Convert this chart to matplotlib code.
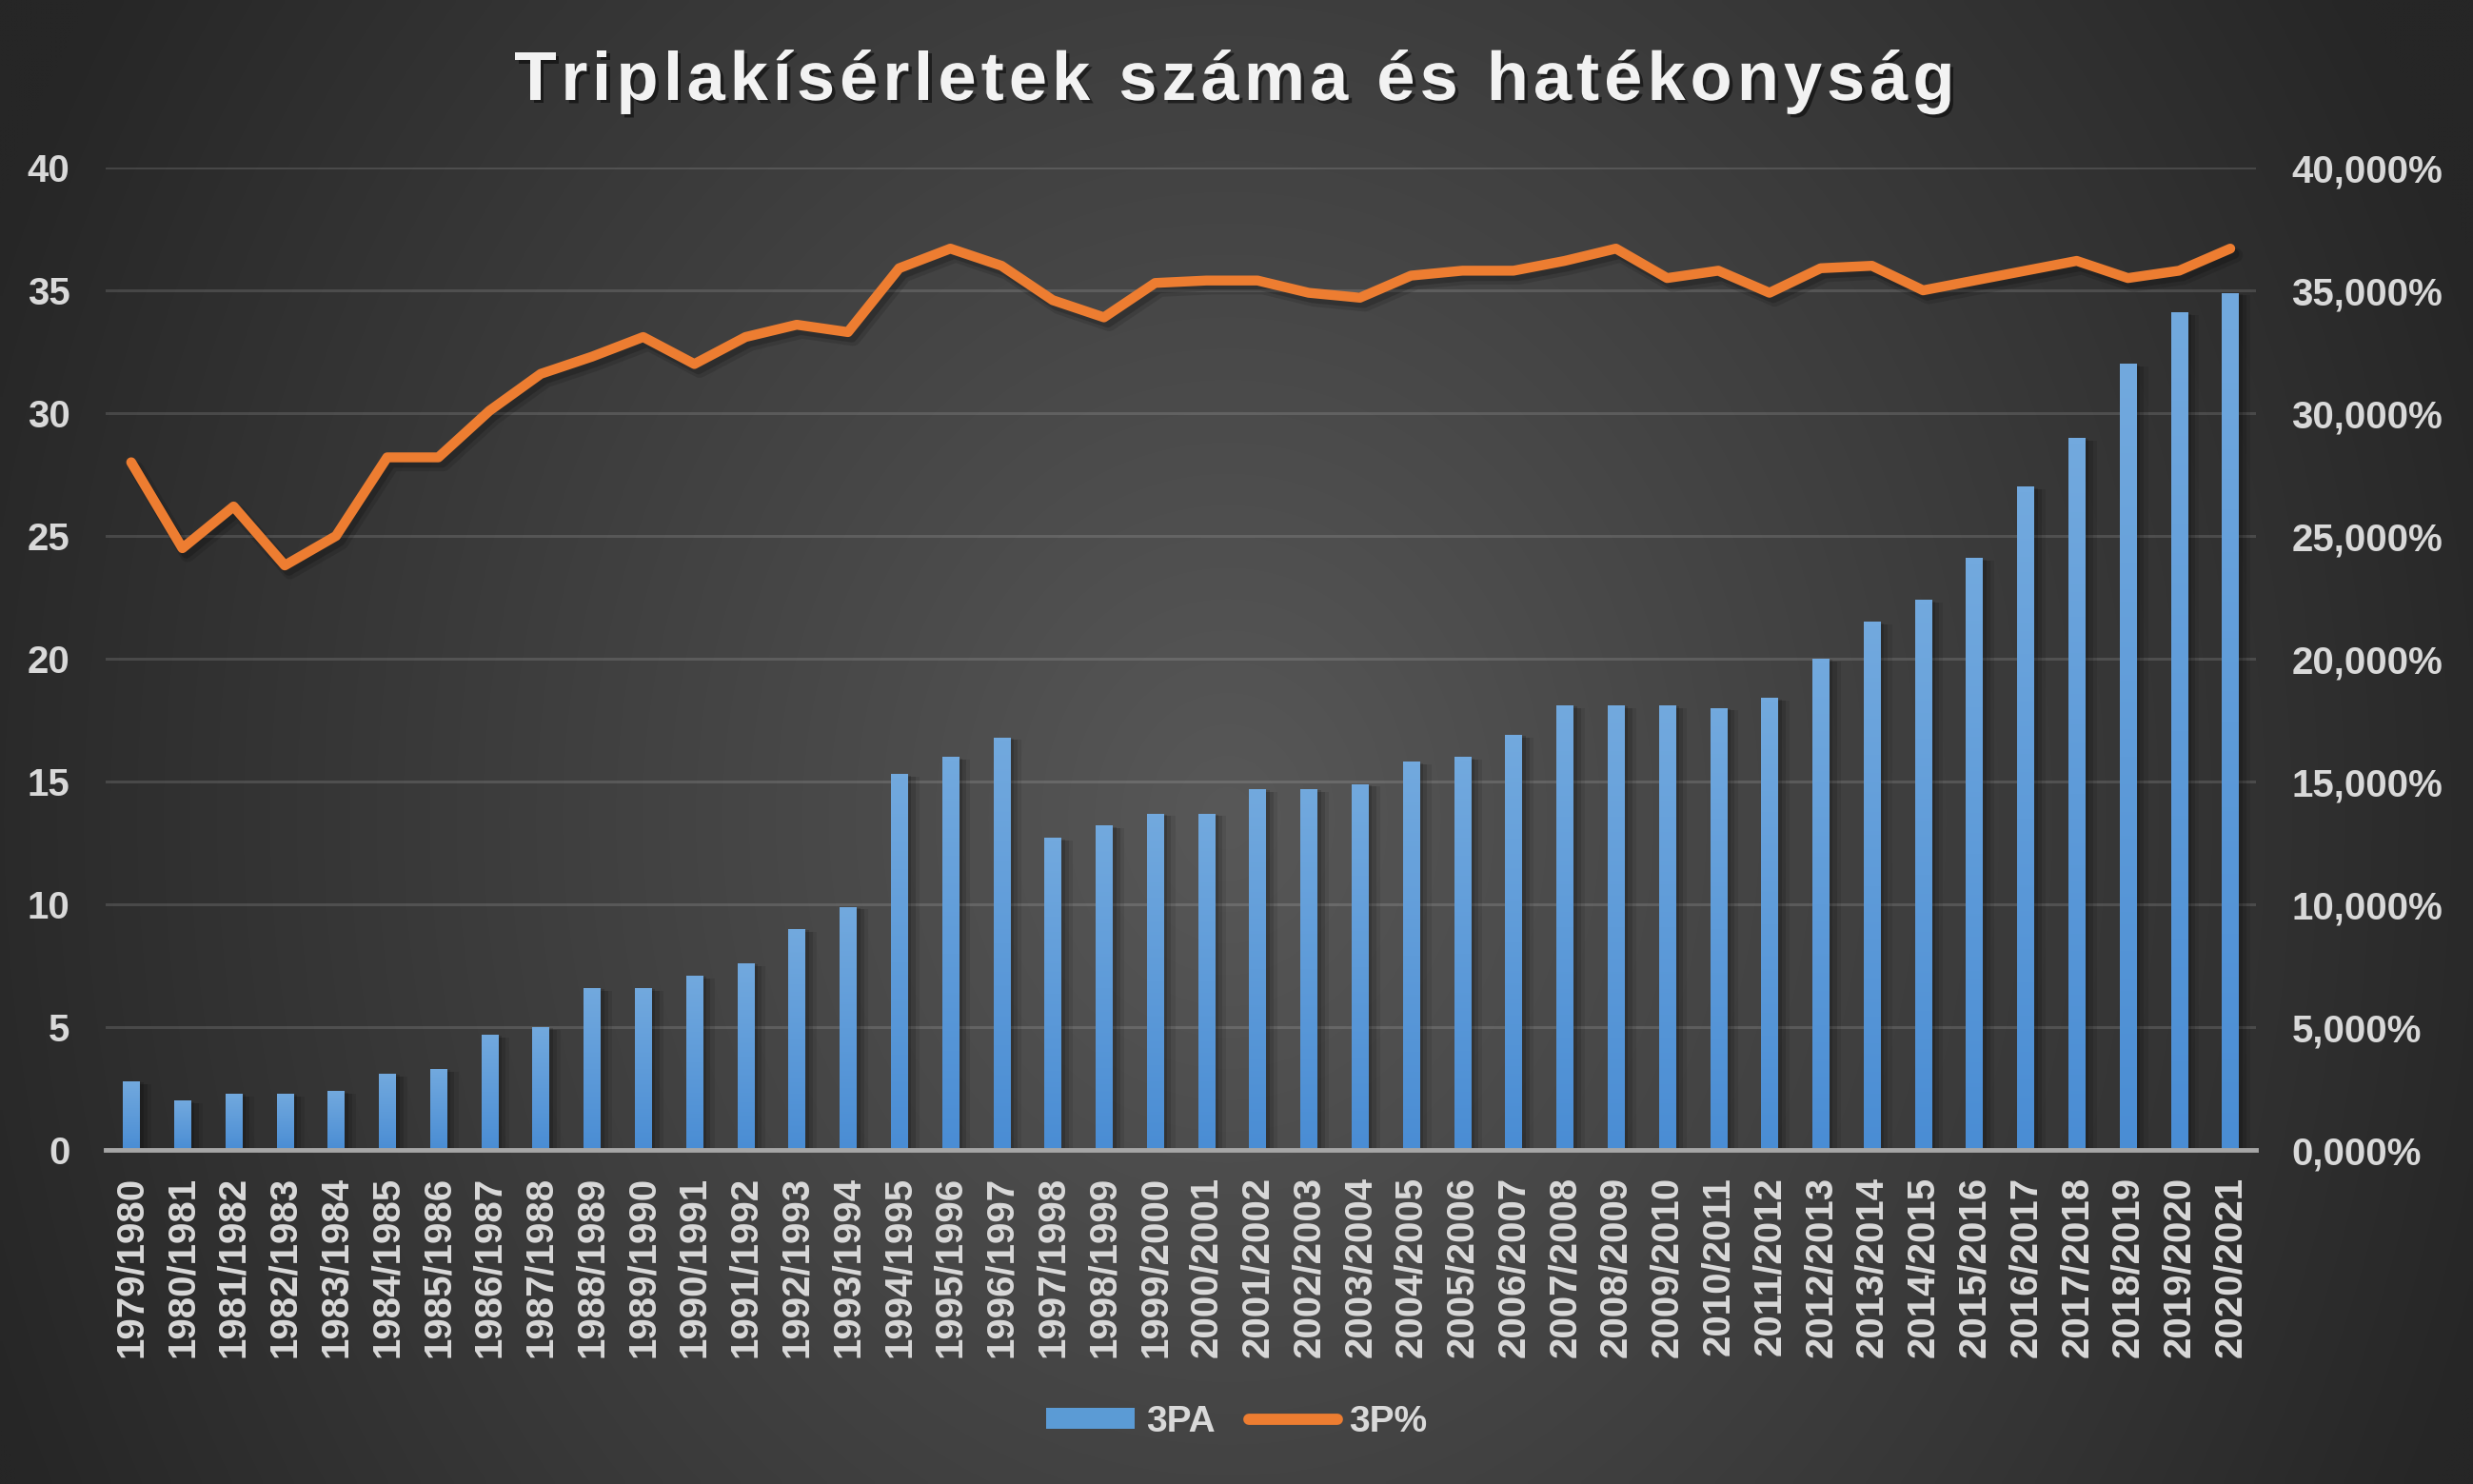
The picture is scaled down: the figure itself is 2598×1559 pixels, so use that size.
import numpy as np
import matplotlib
matplotlib.use("Agg")
import matplotlib.pyplot as plt
import matplotlib.patheffects as pe
from matplotlib.colors import LinearSegmentedColormap
from matplotlib.lines import Line2D
from matplotlib.patches import Patch

# ---------------- data ----------------
seasons = ["1979/1980", "1980/1981", "1981/1982", "1982/1983", "1983/1984", "1984/1985",
           "1985/1986", "1986/1987", "1987/1988", "1988/1989", "1989/1990", "1990/1991",
           "1991/1992", "1992/1993", "1993/1994", "1994/1995", "1995/1996", "1996/1997",
           "1997/1998", "1998/1999", "1999/2000", "2000/2001", "2001/2002", "2002/2003",
           "2003/2004", "2004/2005", "2005/2006", "2006/2007", "2007/2008", "2008/2009",
           "2009/2010", "2010/2011", "2011/2012", "2012/2013", "2013/2014", "2014/2015",
           "2015/2016", "2016/2017", "2017/2018", "2018/2019", "2019/2020", "2020/2021"]
three_pa = [2.8, 2.0, 2.3, 2.3, 2.4, 3.1, 3.3, 4.7, 5.0, 6.6, 6.6, 7.1, 7.6, 9.0, 9.9,
            15.3, 16.0, 16.8, 12.7, 13.2, 13.7, 13.7, 14.7, 14.7, 14.9, 15.8, 16.0, 16.9,
            18.1, 18.1, 18.1, 18.0, 18.4, 20.0, 21.5, 22.4, 24.1, 27.0, 29.0, 32.0, 34.1, 34.9]
three_pct = [28.0, 24.5, 26.2, 23.8, 25.0, 28.2, 28.2, 30.1, 31.6, 32.3, 33.1, 32.0,
             33.1, 33.6, 33.3, 35.9, 36.7, 36.0, 34.6, 33.9, 35.3, 35.4, 35.4, 34.9,
             34.7, 35.6, 35.8, 35.8, 36.2, 36.7, 35.5, 35.8, 34.9, 35.9, 36.0, 35.0,
             35.4, 35.8, 36.2, 35.5, 35.8, 36.7]
left_ticks = [0, 5, 10, 15, 20, 25, 30, 35, 40]
right_tick_labels = ["0,000%", "5,000%", "10,000%", "15,000%", "20,000%", "25,000%",
                     "30,000%", "35,000%", "40,000%"]
title = "Triplakísérletek száma és hatékonyság"
legend_labels = ["3PA", "3P%"]

FONT = ["Liberation Sans", "DejaVu Sans"]
plt.rcParams["font.family"] = FONT

W, H, DPI = 25.98, 15.59, 100
fig = plt.figure(figsize=(W, H), dpi=DPI)

# ---------------- radial background ----------------
bg = fig.add_axes([0, 0, 1, 1], zorder=0)
nx, ny = 520, 312
xx, yy = np.meshgrid(np.linspace(0, W * DPI, nx), np.linspace(0, H * DPI, ny))
cx, cy = 1290, 860
r = np.sqrt(((xx - cx) / 1400.0) ** 2 + ((yy - cy) / 1650.0) ** 2)
r = np.clip(r, 0, 1)
c_in, c_out = 0x58 / 255, 0x26 / 255
val = c_in + (c_out - c_in) * r
img = np.dstack([val, val, val])
bg.imshow(img, extent=[0, 1, 0, 1], aspect="auto", origin="upper", interpolation="bilinear")
bg.set_axis_off()

# ---------------- main axes ----------------
ax = fig.add_axes([0.0427, 0.2251, 0.8695, 0.662], zorder=2)
ax.set_facecolor("none")
x = np.arange(len(seasons))
bw = 0.32
bar_shadow = [pe.SimplePatchShadow(offset=(9, -2), shadow_rgbFace="black", alpha=0.08),
              pe.SimplePatchShadow(offset=(6, -2), shadow_rgbFace="black", alpha=0.12),
              pe.SimplePatchShadow(offset=(3, -1), shadow_rgbFace="black", alpha=0.15),
              pe.Normal()]
bars = ax.bar(x, three_pa, width=bw, color="#5b9bd5", zorder=3, path_effects=bar_shadow)
grad_cmap = LinearSegmentedColormap.from_list("g", ["#4a8dd4", "#72a9de"])
grad = np.linspace(0, 1, 100).reshape(-1, 1)
for b in bars:
    x0, w_, h_ = b.get_x(), b.get_width(), b.get_height()
    im = ax.imshow(grad, extent=[x0, x0 + w_, 0, h_], origin="lower", aspect="auto",
                   cmap=grad_cmap, zorder=3.5, interpolation="bilinear")
    im.set_clip_path(b)

ax.set_xlim(-0.5, len(seasons) - 0.5)
ax.set_ylim(0, 40)
ax.set_yticks(left_ticks)
ax.set_yticklabels([str(t) for t in left_ticks])
ax.set_xticks(x)
ax.set_xticklabels(seasons, rotation=90, va="top", ha="center")
ax.tick_params(axis="x", length=0, pad=20, labelsize=29, labelcolor="#d9d9d9")
ax.tick_params(axis="y", length=0, pad=27, labelsize=29, labelcolor="#d9d9d9")
for lab in ax.get_xticklabels() + ax.get_yticklabels():
    lab.set_fontweight("bold")
ax.grid(axis="y", color="white", alpha=0.13, linewidth=2.2, zorder=1)
ax.set_axisbelow(True)
for s in ["top", "left", "right"]:
    ax.spines[s].set_visible(False)
ax.spines["bottom"].set_color("#a6a6a6")
ax.spines["bottom"].set_linewidth(3.5)
ax.spines["bottom"].set_zorder(4)

# ---------------- secondary axis (line) ----------------
ax2 = ax.twinx()
ax2.set_ylim(0, 40)
ax2.set_yticks(left_ticks)
ax2.set_yticklabels(right_tick_labels)
ax2.tick_params(axis="y", length=0, pad=27, labelsize=29, labelcolor="#d9d9d9")
for lab in ax2.get_yticklabels():
    lab.set_fontweight("bold")
for s in ax2.spines.values():
    s.set_visible(False)
ax2.plot(x, three_pct, color="#ed7d31", linewidth=7.5, solid_capstyle="round",
         solid_joinstyle="round", zorder=5,
         path_effects=[pe.SimpleLineShadow(offset=(4, -5), shadow_color="black", alpha=0.12,
                                           linewidth=11),
                       pe.SimpleLineShadow(offset=(3, -4), shadow_color="black", alpha=0.18),
                       pe.Normal()])

# ---------------- title with letter spacing ----------------
renderer = fig.canvas.get_renderer()
tsize = 52
tkw = dict(fontsize=tsize, fontweight="bold", family=FONT)

def text_w(s):
    t = fig.text(0, 0, s, **tkw)
    w = t.get_window_extent(renderer).width
    t.remove()
    return w

ref = text_w("xx")
adv = [text_w("x" + c + "x") - ref for c in title]
spacing = 5.0
total = sum(adv) + spacing * (len(title) - 1)
cxp = 1297
xpos = cxp - total / 2
ty = 1 - 86 / (H * DPI)
for c, a in zip(title, adv):
    fig.text(xpos / (W * DPI), ty, c, color="#f2f2f2", va="center", ha="left", zorder=10,
             path_effects=[pe.SimplePatchShadow(offset=(2.5, -2.5), shadow_rgbFace="black", alpha=0.5),
                           pe.Normal()], **tkw)
    xpos += a + spacing

# ---------------- legend ----------------
handles = [Patch(facecolor="#5b9bd5", edgecolor="none"),
           Line2D([0], [0], color="#ed7d31", linewidth=8.5, solid_capstyle="round")]
leg = fig.legend(handles, legend_labels, loc="center", bbox_to_anchor=(0.5, 0.042), ncol=2,
                 frameon=False, handlelength=2.4, handleheight=0.5, handletextpad=0.3,
                 columnspacing=0.9,
                 prop={"size": 28, "weight": "bold", "family": FONT})
for t in leg.get_texts():
    t.set_color("#d9d9d9")

fig.savefig("out.png", dpi=DPI)
